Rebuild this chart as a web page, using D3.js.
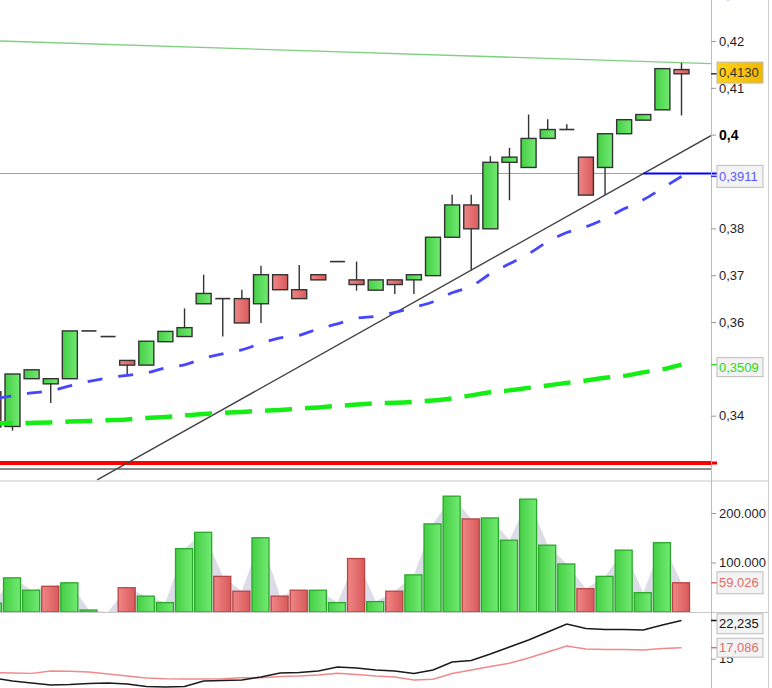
<!DOCTYPE html>
<html><head><meta charset="utf-8">
<script src="https://cdn.jsdelivr.net/npm/d3@7"></script>
<style>html,body{margin:0;padding:0;background:#fff;overflow:hidden}</style>
</head><body>
<svg id="c" width="772" height="688"></svg>
<script>
// ---------- DATA ----------
const candleIndex = d3.range(-1, 36);
const opens  = [0.3451,0.3377,0.3479,0.3468,0.3479,0.3581,0.3569,0.3518,0.3508,0.3558,0.3569,0.3639,0.3650,0.3650,0.3639,0.3701,0.3669,0.3701,0.3729,0.3690,0.3668,0.3690,0.3690,0.3699,0.3781,0.3850,0.3799,0.3941,0.3930,0.3992,0.4011,0.3952,0.3930,0.4002,0.4031,0.4053,0.4139];
const highs  = [0.3451,0.3489,0.3498,0.3479,0.3581,0.3581,0.3569,0.3518,0.3559,0.3580,0.3629,0.3701,0.3650,0.3669,0.3720,0.3701,0.3722,0.3701,0.3729,0.3729,0.3690,0.3690,0.3701,0.3781,0.3872,0.3872,0.3954,0.3972,0.4043,0.4033,0.4022,0.3952,0.4002,0.4032,0.4043,0.4141,0.4153];
const lows   = [0.3376,0.3368,0.3479,0.3427,0.3479,0.3581,0.3569,0.3487,0.3508,0.3558,0.3569,0.3639,0.3569,0.3598,0.3598,0.3669,0.3650,0.3690,0.3729,0.3667,0.3668,0.3660,0.3660,0.3699,0.3781,0.3710,0.3799,0.3860,0.3930,0.3992,0.4011,0.3871,0.3871,0.4002,0.4031,0.4053,0.4041];
const closes = [0.3376,0.3489,0.3498,0.3479,0.3581,0.3581,0.3569,0.3508,0.3559,0.3580,0.3588,0.3661,0.3650,0.3598,0.3701,0.3669,0.3650,0.3690,0.3729,0.3680,0.3690,0.3680,0.3701,0.3781,0.3850,0.3799,0.3941,0.3952,0.3992,0.4011,0.4011,0.3871,0.4002,0.4032,0.4043,0.4141,0.4130];

const maBlue  = [0.34359,0.34423,0.34487,0.34530,0.34637,0.34733,0.34808,0.34861,0.34915,0.35021,0.35085,0.35224,0.35321,0.35406,0.35545,0.35662,0.35716,0.35855,0.35962,0.36079,0.36122,0.36207,0.36314,0.36432,0.36624,0.36763,0.37030,0.37244,0.37457,0.37714,0.37910,0.38034,0.38205,0.38419,0.38611,0.38857,0.3911];
const maGreen = [0.33835,0.33840,0.33846,0.33857,0.33874,0.33889,0.33904,0.33921,0.33953,0.33970,0.34006,0.34038,0.34060,0.34081,0.34103,0.34124,0.34152,0.34177,0.34209,0.34237,0.34263,0.34274,0.34295,0.34327,0.34370,0.34434,0.34502,0.34541,0.34594,0.34647,0.34701,0.34750,0.34808,0.34850,0.34925,0.34989,0.3509];

const volumes = [18000,69000,44000,52000,59000,4000,0,49000,32000,19000,128000,161000,72000,42000,150000,32000,44000,44000,19000,108000,21000,42000,75000,178000,234000,188000,190000,145000,228000,135000,97000,47000,72000,125000,39000,140000,59026];
const volumeUp = [1,1,1,0,1,1,1,0,1,1,1,1,0,0,1,0,0,1,1,0,1,0,1,1,1,0,1,1,1,1,1,0,1,1,1,1,0];

const indBlack = [11.34,10.78,10.40,10.02,10.11,10.30,10.40,10.21,9.73,9.64,9.73,10.78,10.87,10.97,11.53,12.29,12.39,12.67,13.43,13.24,12.86,12.67,12.20,12.86,14.38,14.66,15.89,17.22,18.54,20.06,21.57,20.72,20.53,20.53,20.44,21.38,22.235];
const indRed   = [12.35,12.29,12.23,12.67,12.61,12.48,12.10,11.72,11.34,11.21,11.16,11.16,11.21,11.40,11.40,11.63,11.72,11.91,12.23,12.01,11.72,11.53,10.97,11.10,12.20,12.86,13.52,14.13,15.13,16.27,17.41,16.84,16.74,16.74,16.65,16.93,17.086];

const priceTicks = [0.43,0.42,0.41,0.40,0.38,0.37,0.36,0.34];
const priceTickLabels = ["0,43","0,42","0,41","0,4","0,38","0,37","0,36","0,34"];
const volumeTicks = [100000,200000];
const volumeTickLabels = ["100.000","200.000"];
const indTicks = [15];
const indTickLabels = ["15"];

// trend / level lines (index, price)
const resistanceLine = [[-0.656,0.4200],[36.54,0.41517]];
const supportTrend   = [[4.43,0.32628],[36.54,0.39979]];
const redLevel = 0.3299;
const darkLevel = 0.32862;
const grayLevel = 0.39171;
const blueMarkerStart = 33;

const lastPrice = 0.4130, lastBlue = 0.3911, lastGreen = 0.3509, lastVolume = 59026;
const lastBlack = 22.235, lastRed = 17.086;

// ---------- LAYOUT ----------
const axisX = 711, rightEdge = 768;
const priceBottom = 481, volBottom = 612.5, H = 688;
const svg = d3.select('#c');
const font = "'Liberation Sans', Arial, sans-serif";

const x  = d3.scaleLinear().domain([0,35]).range([12.5,681.5]);
const yP = d3.scaleLinear().domain([0.34,0.42]).range([415.7,41]);
const yV = d3.scaleLinear().domain([0,200000]).range([612,513]);
const yI = d3.scaleLinear().domain([15,22.235]).range([658.7,620.5]);

const defs = svg.append('defs');
function grad(id, c1, c2){
  const g = defs.append('linearGradient').attr('id',id).attr('x1','0').attr('x2','1').attr('y1','0').attr('y2','0');
  g.append('stop').attr('offset','0').attr('stop-color',c1);
  g.append('stop').attr('offset','1').attr('stop-color',c2);
}
grad('gUp','#45cf45','#72ea72');
grad('gDn','#f08686','#d95a5a');
grad('gGold','#ffd21a','#f0b800');
function clip(id, y0, y1){
  defs.append('clipPath').attr('id',id).append('rect').attr('x',0).attr('y',y0).attr('width',axisX).attr('height',y1-y0);
}
clip('cpP',0,priceBottom); clip('cpV',priceBottom,volBottom); clip('cpI',volBottom,H);

svg.append('rect').attr('width',772).attr('height',688).attr('fill','#fff');

// ---------- PRICE PANEL ----------
const gP = svg.append('g').attr('clip-path','url(#cpP)');
const lineXY = d3.line().x(d=>x(d[0])).y(d=>yP(d[1]));

gP.append('line').attr('x1',0).attr('x2',axisX).attr('y1',yP(grayLevel)).attr('y2',yP(grayLevel))
  .attr('stroke','#a0a0a0').attr('stroke-width',1.2);
gP.append('path').attr('d',lineXY(resistanceLine)).attr('stroke','#7fd07f').attr('stroke-width',1.3).attr('fill','none');
gP.append('line').attr('x1',0).attr('x2',axisX).attr('y1',yP(darkLevel)).attr('y2',yP(darkLevel))
  .attr('stroke','#666').attr('stroke-width',1.5);
gP.append('line').attr('x1',0).attr('x2',axisX).attr('y1',yP(redLevel)).attr('y2',yP(redLevel))
  .attr('stroke','#ff0000').attr('stroke-width',4);

const candles = candleIndex.map((i,k)=>({i, o:opens[k], h:highs[k], l:lows[k], c:closes[k]}));
const cg = gP.append('g').selectAll('g').data(candles).join('g');
cg.append('line').attr('x1',d=>x(d.i)).attr('x2',d=>x(d.i))
  .attr('y1',d=>yP(d.h)).attr('y2',d=>yP(d.l)).attr('stroke','#333').attr('stroke-width',1.4);
cg.filter(d=>d.o!==d.c).append('rect')
  .attr('x',d=>x(d.i)-7.5).attr('width',15)
  .attr('y',d=>yP(Math.max(d.o,d.c))).attr('height',d=>Math.abs(yP(d.o)-yP(d.c)))
  .attr('fill',d=>d.c>d.o?'url(#gUp)':'url(#gDn)').attr('stroke','#333').attr('stroke-width',1.4);
cg.filter(d=>d.o===d.c).append('line')
  .attr('x1',d=>x(d.i)-7.5).attr('x2',d=>x(d.i)+7.5).attr('y1',d=>yP(d.c)).attr('y2',d=>yP(d.c))
  .attr('stroke','#333').attr('stroke-width',1.6);

gP.append('path').attr('d',lineXY(supportTrend)).attr('stroke','#444').attr('stroke-width',1.4).attr('fill','none');

const maLine = arr => d3.line().x((d,k)=>x(candleIndex[k])).y(d=>yP(d)).curve(d3.curveMonotoneX)(arr);
gP.append('path').attr('d',maLine(maGreen)).attr('fill','none').attr('stroke','#14ee14')
  .attr('stroke-width',4.5).attr('stroke-dasharray','27,13').attr('stroke-dashoffset',8);
gP.append('path').attr('d',maLine(maBlue)).attr('fill','none').attr('stroke','#4646ff')
  .attr('stroke-width',2.8).attr('stroke-dasharray','15,16').attr('stroke-dashoffset',28);

svg.append('line').attr('x1',x(blueMarkerStart)).attr('x2',717).attr('y1',yP(grayLevel)).attr('y2',yP(grayLevel))
  .attr('stroke','#0000ff').attr('stroke-width',2);
svg.append('line').attr('x1',axisX).attr('x2',717).attr('y1',yP(redLevel)).attr('y2',yP(redLevel))
  .attr('stroke','#ee0000').attr('stroke-width',3);

// ---------- VOLUME PANEL ----------
const gV = svg.append('g').attr('clip-path','url(#cpV)');
gV.append('path').datum(volumes)
  .attr('d', d3.area().x((d,k)=>x(candleIndex[k])).y0(yV(0)).y1(d=>yV(d)))
  .attr('fill','#dcdce8');
gV.selectAll('rect.v').data(volumes).join('rect').attr('class','v')
  .filter(d=>d>0)
  .attr('x',(d,k)=>x(candleIndex[volumes.indexOf(d)===k?k:k])-9)
  .attr('width',17);
gV.selectAll('rect.v').each(function(d,k){
  const s = d3.select(this);
  if(d<=0){ s.remove(); return; }
  s.attr('x', x(candleIndex[k])-9).attr('width',17)
   .attr('y', yV(d)).attr('height', yV(0)-yV(d))
   .attr('fill', volumeUp[k]?'url(#gUp)':'url(#gDn)')
   .attr('stroke', volumeUp[k]?'#2aa82a':'#b84444').attr('stroke-width',1.3);
});

// ---------- INDICATOR PANEL ----------
const gI = svg.append('g').attr('clip-path','url(#cpI)');
const indLine = d3.line().x((d,k)=>x(candleIndex[k])).y(d=>yI(d));
gI.append('path').attr('d',indLine(indRed)).attr('fill','none').attr('stroke','#f08a8a').attr('stroke-width',1.4);
gI.append('path').attr('d',indLine(indBlack)).attr('fill','none').attr('stroke','#1a1a1a').attr('stroke-width',1.5);

// ---------- FRAMES ----------
svg.append('line').attr('x1',0).attr('x2',rightEdge).attr('y1',priceBottom).attr('y2',priceBottom).attr('stroke','#c8c8c8');
svg.append('line').attr('x1',0).attr('x2',rightEdge).attr('y1',volBottom).attr('y2',volBottom).attr('stroke','#c8c8c8');
svg.append('line').attr('x1',axisX+0.5).attr('x2',axisX+0.5).attr('y1',0).attr('y2',H).attr('stroke','#bdbdbd');
svg.append('line').attr('x1',rightEdge+0.5).attr('x2',rightEdge+0.5).attr('y1',0).attr('y2',H).attr('stroke','#d0d0d0');

// ---------- AXES ----------
function styleAxis(g){
  g.select('.domain').remove();
  g.selectAll('.tick line').attr('stroke','#999');
  g.selectAll('.tick text').attr('fill','#1e1e1e').style('font-family',font).style('font-size','13px');
}
const axP = svg.append('g').attr('transform',`translate(${axisX},0)`)
  .call(d3.axisRight(yP).tickValues(priceTicks).tickFormat((d,k)=>priceTickLabels[k]).tickSize(5).tickPadding(3));
styleAxis(axP);
axP.selectAll('.tick text').filter(d=>d===0.40).style('font-weight','bold').style('font-size','14px').attr('fill','#000');
const axV = svg.append('g').attr('transform',`translate(${axisX},0)`)
  .call(d3.axisRight(yV).tickValues(volumeTicks).tickFormat((d,k)=>volumeTickLabels[k]).tickSize(5).tickPadding(3));
styleAxis(axV);
const axI = svg.append('g').attr('transform',`translate(${axisX},0)`)
  .call(d3.axisRight(yI).tickValues(indTicks).tickFormat((d,k)=>indTickLabels[k]).tickSize(5).tickPadding(3));
styleAxis(axI);

// ---------- VALUE LABELS ----------
function valueLabel(yVal, boxCenter, text, color, fill, tickColor, h){
  svg.append('line').attr('x1',axisX).attr('x2',717).attr('y1',yVal).attr('y2',yVal).attr('stroke',tickColor).attr('stroke-width',1.5);
  svg.append('rect').attr('x',717).attr('y',boxCenter-h/2).attr('width',46).attr('height',h)
    .attr('fill',fill).attr('stroke','#bcbcbc');
  svg.append('text').attr('x',719).attr('y',boxCenter).attr('dy','0.35em').text(text)
    .attr('fill',color).style('font-family',font).style('font-size','13px');
}
const fmt = (v,dec)=>v.toFixed(dec).replace('.',',');
valueLabel(yP(lastPrice), yP(lastPrice)-1.2, fmt(lastPrice,4), '#333', 'url(#gGold)', '#333', 21);
valueLabel(yP(lastBlue), yP(lastBlue), fmt(lastBlue,4), '#5a5aff', '#f3f3f3', '#3030ff', 22);
valueLabel(yP(lastGreen), yP(lastGreen)+2.5, fmt(lastGreen,4), '#22dd22', '#f3f3f3', '#22dd22', 19);
valueLabel(yV(lastVolume), yV(lastVolume), d3.format(',')(lastVolume).replace(',','.'), '#e06c6c', '#f3f3f3', '#e06c6c', 22);
valueLabel(yI(lastBlack), 623.8, fmt(lastBlack,3), '#111', '#f3f3f3', '#111', 20);
valueLabel(yI(lastRed), 647.7, fmt(lastRed,3), '#e07070', '#f3f3f3', '#e07070', 19);
</script>
</body></html>
